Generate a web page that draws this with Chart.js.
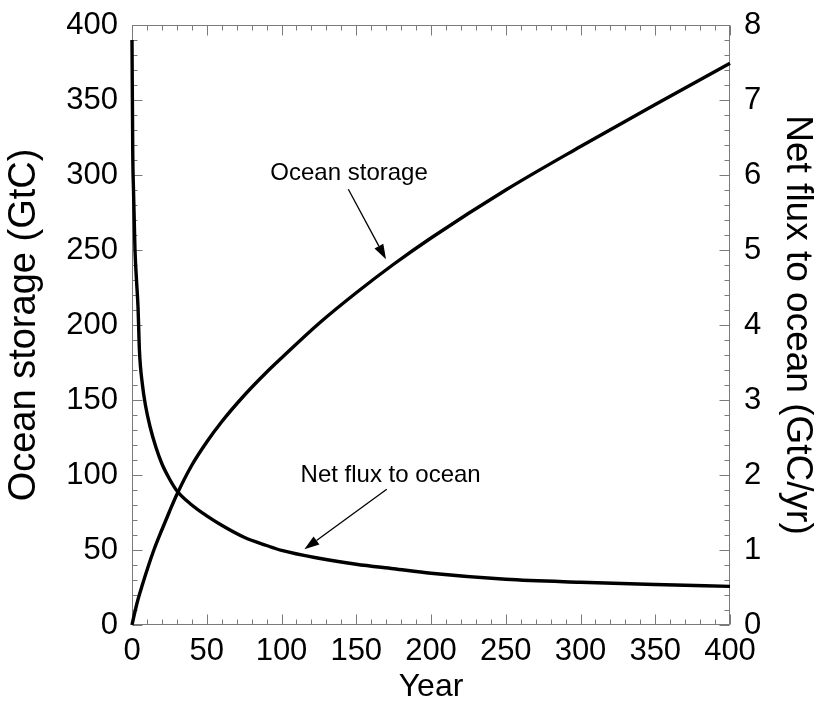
<!DOCTYPE html>
<html>
<head>
<meta charset="utf-8">
<script src="https://cdn.jsdelivr.net/npm/chart.js@4.4.0/dist/chart.umd.min.js"></script>
<style>
  html, body { margin: 0; padding: 0; background: #fff; }
  #wrap { width: 818px; height: 703px; }
</style>
</head>
<body>
<div id="wrap"><canvas id="oceanChart" width="818" height="703"></canvas></div>
<script>
// cumulative uptake (GtC) against year
const storageYears  = [0, 2, 4, 7, 11, 15, 20, 25, 30, 40, 50, 60, 75, 90, 100, 125, 150, 175, 200, 250, 300, 350, 400];
const storageValues = [0, 9, 17, 27, 39.5, 51, 63.5, 75.5, 87, 106.5, 122, 135.5, 153, 168.5, 178, 201, 221.5, 240.5, 258, 290, 319, 347, 374.5];

// net air-sea flux (GtC/yr) against year
const fluxYears  = [0, 0.5, 1, 2, 3, 4, 5, 7, 9, 12, 16, 20, 25, 30, 40, 50, 60, 75, 90, 100, 125, 150, 175, 200, 250, 300, 350, 400];
const fluxValues = [7.8, 6.3, 5.8, 5.0, 4.6, 4.25, 3.65, 3.2, 2.93, 2.65, 2.37, 2.15, 1.95, 1.79, 1.6, 1.455, 1.33, 1.17, 1.06, 0.995, 0.89, 0.81, 0.75, 0.69, 0.61, 0.57, 0.54, 0.515];

const yearTicks    = { min: 0, max: 400, major: 50, minor: 10 };
const storageTicks = { min: 0, max: 400, major: 50, minor: 10 };
const fluxTicks    = { min: 0, max: 8, major: 1, minor: 0.2 };

// labels with arrows, placed in (year, GtC) units
const notes = [
  { text: 'Ocean storage',     at: [145.2, 301.3], from: [144.7, 290.5], to: [169.9, 243.8] },
  { text: 'Net flux to ocean', at: [173, 100],     from: [170.4, 90.5],  to: [115.3, 50.5] }
];

const FONT = '"Liberation Sans", Arial, Helvetica, sans-serif';
const AXIS_GREY = '#7a7a7a';

function toPoints(xs, ys) {
  return xs.map((x, i) => ({ x: x, y: ys[i] }));
}

// fixed box sizes so the plot area lands where it should
function fixBox(size) {
  return function (scale) {
    if (scale.isHorizontal()) {
      scale.height = size;
      scale.paddingLeft = 0;
      scale.paddingRight = 0;
    } else {
      scale.width = size;
      scale.paddingTop = 0;
      scale.paddingBottom = 0;
    }
  };
}

// box around the plot with inward major/minor ticks on all four sides
const frameTicks = {
  id: 'frameTicks',
  beforeDatasetsDraw(chart) {
    const { ctx, chartArea: a, scales } = chart;
    const L = Math.round(a.left) + 0.5, R = Math.round(a.right) - 0.5;
    const T = Math.round(a.top) + 0.5, B = Math.round(a.bottom) - 0.5;
    ctx.save();
    ctx.strokeStyle = AXIS_GREY;
    ctx.lineWidth = 1;
    ctx.strokeRect(L, T, R - L, B - T);
    ctx.beginPath();
    const steps = (t) => {
      const out = [];
      const n = Math.round((t.max - t.min) / t.minor);
      for (let i = 0; i <= n; i++) {
        const v = t.min + i * t.minor;
        const isMajor = Math.abs(v / t.major - Math.round(v / t.major)) < 1e-6;
        out.push({ v: v, len: isMajor ? 10 : 5 });
      }
      return out;
    };
    steps(yearTicks).forEach(s => {
      const px = Math.round(scales.x.getPixelForValue(s.v)) + 0.5;
      ctx.moveTo(px, B); ctx.lineTo(px, B - s.len);
      ctx.moveTo(px, T); ctx.lineTo(px, T + s.len);
    });
    steps(storageTicks).forEach(s => {
      const py = Math.round(scales.y.getPixelForValue(s.v)) + 0.5;
      ctx.moveTo(L, py); ctx.lineTo(L + s.len, py);
    });
    steps(fluxTicks).forEach(s => {
      const py = Math.round(scales.y1.getPixelForValue(s.v)) + 0.5;
      ctx.moveTo(R, py); ctx.lineTo(R - s.len, py);
    });
    ctx.stroke();
    ctx.restore();
  }
};

const arrowNotes = {
  id: 'arrowNotes',
  afterDatasetsDraw(chart) {
    const { ctx, scales } = chart;
    const px = (p) => [scales.x.getPixelForValue(p[0]), scales.y.getPixelForValue(p[1])];
    ctx.save();
    notes.forEach(n => {
      const [tx, ty] = px(n.at);
      ctx.fillStyle = '#000';
      ctx.font = '24px ' + FONT;
      ctx.textAlign = 'center';
      ctx.textBaseline = 'middle';
      ctx.fillText(n.text, tx, ty);

      const [x0, y0] = px(n.from);
      const [x1, y1] = px(n.to);
      const ang = Math.atan2(y1 - y0, x1 - x0);
      const head = 15, wing = 5;
      const bx = x1 - head * Math.cos(ang), by = y1 - head * Math.sin(ang);
      ctx.strokeStyle = '#000';
      ctx.lineWidth = 1.3;
      ctx.beginPath();
      ctx.moveTo(x0, y0);
      ctx.lineTo(bx, by);
      ctx.stroke();
      ctx.beginPath();
      ctx.moveTo(x1, y1);
      ctx.lineTo(bx + wing * Math.sin(ang), by - wing * Math.cos(ang));
      ctx.lineTo(bx - wing * Math.sin(ang), by + wing * Math.cos(ang));
      ctx.closePath();
      ctx.fill();
    });
    ctx.restore();
  }
};

const ctx = document.getElementById('oceanChart').getContext('2d');
const chart = new Chart(ctx, {
  type: 'line',
  data: {
    datasets: [
      {
        label: 'Ocean storage',
        data: toPoints(storageYears, storageValues),
        yAxisID: 'y',
        borderColor: '#000',
        borderWidth: 3.4,
        pointRadius: 0,
        cubicInterpolationMode: 'monotone',
        clip: false
      },
      {
        label: 'Net flux to ocean',
        data: toPoints(fluxYears, fluxValues),
        yAxisID: 'y1',
        borderColor: '#000',
        borderWidth: 3.4,
        pointRadius: 0,
        cubicInterpolationMode: 'monotone',
        clip: false
      }
    ]
  },
  options: {
    responsive: false,
    animation: false,
    layout: { padding: { top: 25, left: 0, right: 0, bottom: 0 } },
    plugins: {
      legend: { display: false },
      tooltip: { enabled: false }
    },
    scales: {
      x: {
        type: 'linear',
        min: yearTicks.min,
        max: yearTicks.max,
        ticks: { stepSize: yearTicks.major, color: '#000', font: { family: FONT, size: 31 }, padding: 0, maxRotation: 0 },
        grid: { display: false },
        border: { display: false },
        title: { display: true, text: 'Year', color: '#000', font: { family: FONT, size: 32, lineHeight: 1 }, padding: 0 },
        afterFit: fixBox(78)
      },
      y: {
        position: 'left',
        min: storageTicks.min,
        max: storageTicks.max,
        ticks: { stepSize: storageTicks.major, color: '#000', font: { family: FONT, size: 31 }, padding: 6 },
        grid: { display: false },
        border: { display: false },
        title: { display: true, text: 'Ocean storage (GtC)', color: '#000', font: { family: FONT, size: 38, lineHeight: 1 }, padding: 6 },
        afterFit: fixBox(132)
      },
      y1: {
        position: 'right',
        min: fluxTicks.min,
        max: fluxTicks.max,
        ticks: { stepSize: fluxTicks.major, color: '#000', font: { family: FONT, size: 31 }, padding: 6 },
        grid: { display: false },
        border: { display: false },
        title: { display: true, text: 'Net flux to ocean (GtC/yr)', color: '#000', font: { family: FONT, size: 37, lineHeight: 1 }, padding: 2 },
        afterFit: fixBox(88)
      }
    }
  },
  plugins: [frameTicks, arrowNotes]
});
</script>
</body>
</html>
